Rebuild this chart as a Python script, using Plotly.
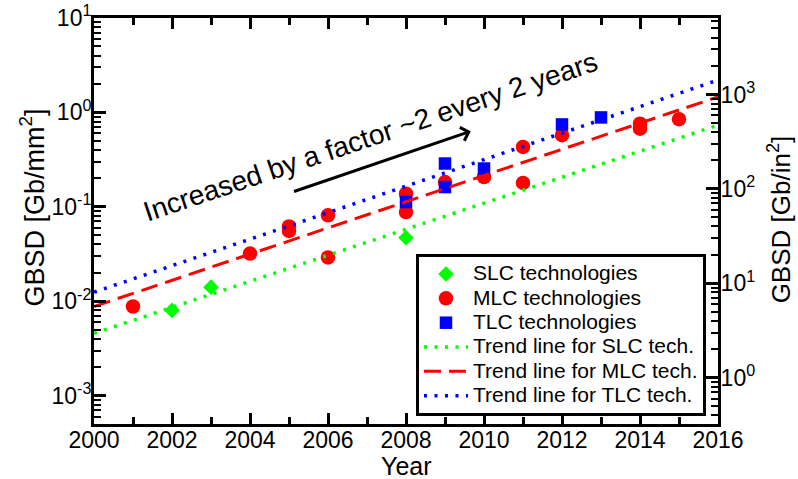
import math
import plotly.graph_objects as go

# Gate bit storage density (Gb/mm^2) by year of introduction
slc_years = [2002, 2003, 2008]
slc_gbsd = [0.0080, 0.0141, 0.047]

mlc_years = [2001, 2004, 2005, 2005, 2006, 2006, 2008, 2008, 2009, 2010, 2011, 2011, 2012, 2014, 2014, 2015]
mlc_gbsd = [0.0088, 0.032, 0.062, 0.0556, 0.0813, 0.0291, 0.138, 0.0881, 0.183, 0.207, 0.431, 0.179, 0.574, 0.760, 0.673, 0.849]

tlc_years = [2008, 2009, 2009, 2010, 2012, 2013]
tlc_gbsd = [0.1124, 0.2875, 0.162, 0.2545, 0.746, 0.885]

# Trend lines (end points over the plotted span)
trend_years = [2000, 2016]
slc_trend = [0.00457, 0.733]
mlc_trend = [0.0088, 1.46]
tlc_trend = [0.01247, 2.2]

y_tick_exp = [-3, -2, -1, 0, 1]
y2_tick_exp = [0, 1, 2, 3]
MM2_PER_IN2 = 645.16

FONT = "Arial, Liberation Sans, sans-serif"
GREEN = "#00ff00"
RED = "#ff0000"
BLUE = "#0000ff"


def legend_label(s):
    return f'<span style="font-size:21px">{s}</span>'


fig = go.Figure()

fig.add_trace(go.Scatter(x=slc_years, y=slc_gbsd, mode="markers", name=legend_label("SLC technologies"),
                         marker=dict(symbol="diamond", size=12, color=GREEN)))
fig.add_trace(go.Scatter(x=mlc_years, y=mlc_gbsd, mode="markers", name=legend_label("MLC technologies"),
                         marker=dict(symbol="circle", size=14.5, color=RED)))
fig.add_trace(go.Scatter(x=tlc_years, y=tlc_gbsd, mode="markers", name=legend_label("TLC technologies"),
                         marker=dict(symbol="square", size=12.5, color=BLUE)))

fig.add_trace(go.Scatter(x=trend_years, y=slc_trend, mode="lines", name=legend_label("Trend line for SLC tech."),
                         line=dict(color=GREEN, width=3.5, dash="3px,7.5px")))
fig.add_trace(go.Scatter(x=trend_years, y=mlc_trend, mode="lines", name=legend_label("Trend line for MLC tech."),
                         line=dict(color=RED, width=3, dash="17px,8px")))
fig.add_trace(go.Scatter(x=trend_years, y=tlc_trend, mode="lines", name=legend_label("Trend line for TLC tech."),
                         line=dict(color=BLUE, width=3.5, dash="3px,7.5px")))

# Same MLC trend expressed in Gb/in^2 to carry the right-hand axis (not visible)
fig.add_trace(go.Scatter(x=trend_years, y=[v * MM2_PER_IN2 for v in mlc_trend], yaxis="y2",
                         mode="lines", line=dict(width=0), opacity=0,
                         showlegend=False, hoverinfo="skip"))

y_lo, y_hi = -3.3, 1.0
off = math.log10(MM2_PER_IN2)


def pow_label(e):
    return f"10<sup>{e}</sup>"


fig.update_layout(
    width=798, height=479,
    margin=dict(l=94, r=80, t=18, b=55),
    paper_bgcolor="white", plot_bgcolor="white",
    font=dict(family=FONT, color="black", size=22),
    showlegend=True,
    legend=dict(x=0.516, y=0.419, xanchor="left", yanchor="top",
                bgcolor="white", bordercolor="black", borderwidth=3,
                font=dict(size=16.4, family=FONT), tracegroupgap=0, itemwidth=44),
    xaxis=dict(range=[2000, 2016], dtick=2, tick0=2000,
               showline=True, linecolor="black", linewidth=3, mirror="ticks",
               ticks="inside", ticklen=11, tickwidth=2.5, tickcolor="black",
               minor=dict(dtick=1, ticks="inside", ticklen=7, tickwidth=2.5, tickcolor="black"),
               showgrid=False, zeroline=False, automargin=False,
               tickfont=dict(size=23), ticklabelstandoff=-7),
    yaxis=dict(type="log", range=[y_lo, y_hi],
               tickvals=[10 ** e for e in y_tick_exp], ticktext=[pow_label(e) for e in y_tick_exp],
               showline=True, linecolor="black", linewidth=3,
               ticks="inside", ticklen=12, tickwidth=2.5, tickcolor="black",
               minor=dict(dtick="D1", ticks="inside", ticklen=7, tickwidth=2, tickcolor="black"),
               showgrid=False, zeroline=False, automargin=False,
               tickfont=dict(size=23), ticklabelstandoff=-5),
    yaxis2=dict(type="log", range=[y_lo + off, y_hi + off], overlaying="y", side="right",
                tickvals=[10 ** e for e in y2_tick_exp], ticktext=[pow_label(e) for e in y2_tick_exp],
                showline=True, linecolor="black", linewidth=3,
                ticks="inside", ticklen=12, tickwidth=2.5, tickcolor="black",
                minor=dict(dtick="D1", ticks="inside", ticklen=7, tickwidth=2, tickcolor="black"),
                showgrid=False, zeroline=False, automargin=False,
                tickfont=dict(size=23), ticklabelstandoff=-5),
)

# Axis titles
fig.add_annotation(x=0.5, y=-0.1035, xref="paper", yref="paper", text="Year",
                   showarrow=False, font=dict(size=25, family=FONT),
                   xanchor="center", yanchor="middle")
fig.add_annotation(x=-0.0986, y=0.5345, xref="paper", yref="paper", text="GBSD [Gb/mm<sup>2</sup>]",
                   showarrow=False, textangle=-90, font=dict(size=27, family=FONT),
                   xanchor="center", yanchor="middle")
fig.add_annotation(x=1.1, y=0.505, xref="paper", yref="paper", text="GBSD [Gb/in<sup>2</sup>]",
                   showarrow=False, textangle=-90, font=dict(size=26, family=FONT),
                   xanchor="center", yanchor="middle")

# Annotation: doubling trend text and arrow
fig.add_annotation(x=2007.1, y=-0.255, xref="x", yref="y",
                   text="Increased by a factor ~2 every 2 years", showarrow=False,
                   textangle=-18.6, font=dict(size=28, family=FONT, color="black"),
                   xanchor="center", yanchor="middle")
fig.add_annotation(x=2009.66, y=-0.1985, ax=2005.09, ay=-0.843,
                   xref="x", yref="y", axref="x", ayref="y",
                   text="", showarrow=True, arrowhead=4, arrowsize=0.9,
                   arrowwidth=3, arrowcolor="black", standoff=0)

fig.write_html("out.html")
